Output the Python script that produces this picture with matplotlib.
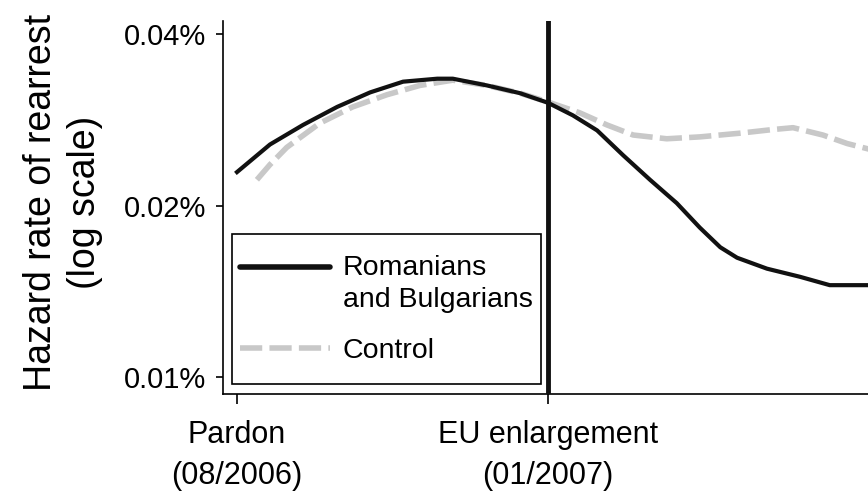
import matplotlib
matplotlib.use("Agg")
import matplotlib.pyplot as plt
from matplotlib.patches import Rectangle
from matplotlib.lines import Line2D

plt.rcParams['font.family'] = ['Liberation Sans', 'DejaVu Sans']

# months since the pardon (08/2006), hazard rate in percent
rb_month = [0.0, 0.53, 1.06, 1.61, 2.14, 2.67, 3.22, 3.47, 4.02, 4.55, 5.0,
            5.40, 5.79, 6.21, 6.64, 7.07, 7.44, 7.77, 8.04, 8.52, 9.05, 9.53, 10.3]
rb_rate = [0.0229, 0.0256, 0.0277, 0.0298, 0.0316, 0.0330, 0.0334, 0.0334,
           0.0325, 0.0315, 0.0303, 0.0288, 0.0271, 0.0245, 0.0222, 0.0202,
           0.0183, 0.0169, 0.0162, 0.0155, 0.0150, 0.0145, 0.0145]

ctrl_month = [0.32, 0.53, 0.80, 1.33, 1.86, 2.41, 2.94, 3.47, 4.02, 4.55, 5.0,
              5.51, 5.95, 6.37, 6.91, 7.44, 8.09, 8.62, 8.94, 9.42, 9.81, 10.3]
ctrl_rate = [0.0222, 0.0236, 0.0253, 0.0279, 0.0298, 0.0313, 0.0325, 0.0332,
             0.0325, 0.0315, 0.0304, 0.0291, 0.0277, 0.0266, 0.0262, 0.0264,
             0.0268, 0.0272, 0.0274, 0.0266, 0.0257, 0.0249]

event_month = [0, 5]
event_labels = ['Pardon\n(08/2006)', 'EU enlargement\n(01/2007)']
y_ticks = [0.01, 0.02, 0.04]
y_labels = ['0.01%', '0.02%', '0.04%']

W, H = 868, 492
fig = plt.figure(figsize=(W / 100, H / 100), dpi=100)
ax = fig.add_axes([223 / W, (H - 394) / H, 1 - 223 / W, (394 - 21) / H])

gray = '#c8c8c8'
ax.plot(ctrl_month, ctrl_rate, color=gray, lw=4, dashes=(4, 1.3), zorder=2)
ax.plot(rb_month, rb_rate, color='#111111', lw=3, solid_joinstyle='round', zorder=3)
ax.axvline(event_month[1], color='#111111', lw=3.5, zorder=4)

ax.set_yscale('log')
ax.set_xlim(-0.225, 10.145)
ax.set_ylim(0.00934, 0.04217)
ax.set_yticks(y_ticks)
ax.set_yticklabels(y_labels)
ax.minorticks_off()
ax.set_xticks(event_month)
ax.set_xticklabels(event_labels, linespacing=1.45)

for s in ['top', 'right']:
    ax.spines[s].set_visible(False)
for s in ['left', 'bottom']:
    ax.spines[s].set_linewidth(1.2)
ax.tick_params(axis='y', length=5, width=1.2, pad=7, labelsize=21)
ax.tick_params(axis='x', length=7, width=1.2, pad=12, labelsize=22)

fig.text(63 / W, 1 - 202 / H, 'Hazard rate of rearrest\n(log scale)',
         rotation=90, ha='center', va='center', multialignment='center',
         fontsize=27, linespacing=1.3)

# legend box drawn by hand so the handle sits on the first label line
def fx(px):
    return px / W

def fy(py):
    return 1 - py / H

fig.add_artist(Rectangle((fx(232), fy(384)), fx(541) - fx(232), fy(234) - fy(384),
                         transform=fig.transFigure, facecolor='white',
                         edgecolor='black', lw=1.2, zorder=10))
fig.add_artist(Line2D([fx(240), fx(330)], [fy(267), fy(267)], color='#111111',
                      lw=4, solid_capstyle='round', zorder=11))
fig.add_artist(Line2D([fx(240), fx(330)], [fy(348), fy(348)], color=gray,
                      lw=4, dashes=(4, 1.3), zorder=11))
fig.text(fx(343), fy(275), 'Romanians', fontsize=20.5, va='baseline', zorder=12)
fig.text(fx(343), fy(307), 'and Bulgarians', fontsize=20.5, va='baseline', zorder=12)
fig.text(fx(343), fy(358), 'Control', fontsize=20.5, va='baseline', zorder=12)

fig.savefig('out.png', dpi=100)
